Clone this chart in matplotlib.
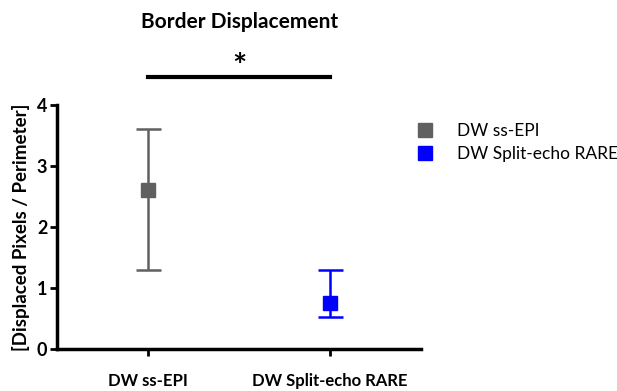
import matplotlib.pyplot as plt

groups = ['DW ss-EPI', 'DW Split-echo RARE']
means = [2.6, 0.76]
err_low = [1.3, 0.52]
err_high = [3.6, 1.3]
colors = ['#606060', '#0000ff']

plt.rcParams['font.family'] = ['Lato', 'DejaVu Sans']

fig = plt.figure(figsize=(6.17, 3.91), dpi=100)
ax = fig.add_axes([0.0924, 0.1074, 0.5899, 0.6241])

for i in range(len(groups)):
    yerr = [[means[i] - err_low[i]], [err_high[i] - means[i]]]
    ax.errorbar([i], [means[i]], yerr=yerr, fmt='s', color=colors[i],
                ms=10, capsize=9, elinewidth=1.8, capthick=1.8,
                label=groups[i], clip_on=False, zorder=3)

ax.set_xlim(-0.5, 1.5)
ax.set_ylim(0, 4)
ax.set_xticks([0, 1])
ax.set_xticklabels(groups, fontsize=12, fontweight='bold')
ax.set_yticks([0, 1, 2, 3, 4])
ax.set_yticklabels(['0', '1', '2', '3', '4'], fontsize=13, fontweight='bold')
ax.tick_params(axis='x', length=5, width=2, pad=12)
ax.tick_params(axis='y', length=5, width=2, pad=2)
ax.spines['top'].set_visible(False)
ax.spines['right'].set_visible(False)
ax.spines['left'].set_linewidth(2.5)
ax.spines['bottom'].set_linewidth(2.5)
ax.set_ylabel('[Displaced Pixels / Perimeter]', fontsize=13.5, fontweight='bold', labelpad=5)

# significance bar
ax.plot([0, 1], [4.46, 4.46], color='black', lw=3, clip_on=False)
ax.text(0.5, 4.38, '*', ha='center', va='bottom', fontsize=24, fontweight='bold')
fig.text(0.389, 0.944, 'Border Displacement', ha='center', va='center',
         fontsize=15, fontweight='bold')

handles = [plt.Line2D([], [], marker='s', ls='', color=c, ms=10) for c in colors]
fig.legend(handles, groups, loc='upper left', bbox_to_anchor=(0.636, 0.725),
           frameon=False, fontsize=12.5, handletextpad=0.8, labelspacing=0.4)

fig.savefig('out.png', dpi=100)
